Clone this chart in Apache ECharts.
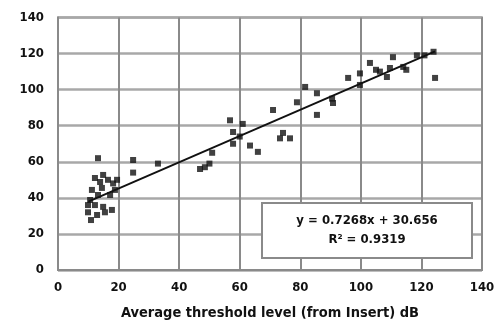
<!DOCTYPE html>
<html><head><meta charset="utf-8">
<script src="https://cdn.jsdelivr.net/npm/echarts@6/dist/echarts.min.js"></script>
<style>html,body{margin:0;padding:0;background:#fff}#c{width:500px;height:336px}</style>
</head><body><div id="c"></div>
<script>
// Data
const pointsX = [9.9,10.9,10.6,9.9,11.2,12.2,12.2,12.9,13.2,13.2,13.9,14.5,14.9,14.9,15.5,16.5,17.2,17.8,18.2,18.8,19.5,
  24.8,24.8,33,46.9,48.5,50.9,50,56.8,57.8,57.8,61,60,63.4,66,71,74.3,73.3,76.6,78.9,81.6,85.5,85.5,90.8,90.5,95.8,
  99.7,99.7,103,105,106.3,108.6,109.6,110.6,114,115,118.5,121,124,124.5];
const pointsY = [32,27.7,38.8,36,44.4,36,51,30.5,41.6,62,48.8,45.5,35,52.7,32,50,41.6,33.3,48,44.4,50,
  61,54,59,56,57,65,59,83,76.5,70,81,74,69,65.5,88.7,76,73,73,93,101.5,86,98,92.6,95,106.5,
  109,102.6,114.8,111,110,107,112,118,112.6,111,119,119,121,106.5];
const trendX = [10, 124.5];
const trendY = [37.9, 121.2];
const xTicks = [0,20,40,60,80,100,120,140];
const yTicks = [0,20,40,60,80,100,120,140];
const xTitle = 'Average threshold level (from Insert) dB';
const eqLine1 = 'y = 0.7268x + 30.656';
const eqLine2 = 'R² = 0.9319';

const font = "'Liberation Sans Narrow','DejaVu Sans Condensed','Liberation Sans',sans-serif";
const chart = echarts.init(document.getElementById('c'), null, {renderer:'canvas'});
chart.setOption({
  animation:false,
  backgroundColor:'#fff',
  grid:{left:58,right:18,top:17.5,bottom:66,show:true,borderColor:'#8a8a8a',borderWidth:2},
  xAxis:{type:'value',min:xTicks[0],max:xTicks[xTicks.length-1],interval:20,
    axisLine:{show:true,lineStyle:{color:'#8a8a8a',width:2}},axisTick:{show:false},
    splitLine:{show:true,lineStyle:{color:'#8a8a8a',width:2}},
    axisLabel:{color:'#111',fontFamily:font,fontWeight:'bold',fontSize:13,margin:11},
    name:xTitle,nameLocation:'middle',nameGap:36,
    nameTextStyle:{color:'#111',fontFamily:font,fontWeight:'bold',fontSize:14.5}},
  yAxis:{type:'value',min:yTicks[0],max:yTicks[yTicks.length-1],interval:20,
    axisLine:{show:true,lineStyle:{color:'#8a8a8a',width:2}},axisTick:{show:false},
    splitLine:{show:true,lineStyle:{color:'#a8a8a8',width:2.5}},
    axisLabel:{color:'#111',fontFamily:font,fontWeight:'bold',fontSize:13,margin:14}},
  series:[
    {type:'line',data:trendX.map((x,i)=>[x,trendY[i]]),symbol:'none',
     lineStyle:{color:'#111',width:2},z:3},
    {type:'scatter',data:pointsX.map((x,i)=>[x,pointsY[i]]),symbol:'rect',symbolSize:6,
     itemStyle:{color:'#111'},z:4}
  ],
  graphic:[
    {type:'rect',x:262,y:203,shape:{width:210,height:55},
     style:{fill:'#fff',stroke:'#8a8a8a',lineWidth:2},z:10},
    {type:'text',x:367,y:221,z:11,
     style:{text:eqLine1,textAlign:'center',textVerticalAlign:'middle',
       fill:'#111',font:"bold 13px "+font}},
    {type:'text',x:367,y:240,z:11,
     style:{text:eqLine2,textAlign:'center',textVerticalAlign:'middle',
       fill:'#111',font:"bold 13px "+font}}
  ]
});
</script></body></html>
